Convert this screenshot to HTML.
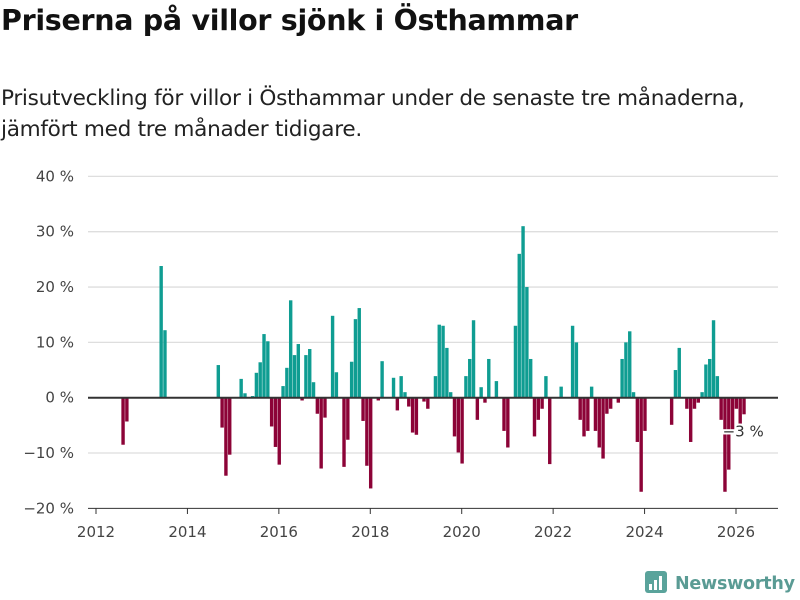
<!DOCTYPE html>
<html><head><meta charset="utf-8">
<style>
body{margin:0;background:#fff;font-family:"Liberation Sans","DejaVu Sans",sans-serif;}
#wrap{position:relative;width:800px;height:600px;overflow:hidden;}
h1{position:absolute;left:1px;top:4px;margin:0;font-size:28.5px;font-weight:bold;color:#111;font-family:"DejaVu Sans","Liberation Sans",sans-serif;letter-spacing:-0.3px;}
.sub{position:absolute;left:1px;top:83px;margin:0;font-size:21.6px;line-height:31px;color:#222;font-family:"DejaVu Sans","Liberation Sans",sans-serif;letter-spacing:-0.3px;}
svg{position:absolute;left:0;top:0;}
</style></head><body>
<div id="wrap">
<h1>Priserna på villor sjönk i Östhammar</h1>
<p class="sub">Prisutveckling för villor i Östhammar under de senaste tre månaderna,<br>jämfört med tre månader tidigare.</p>
<svg id="chart" width="800" height="600"></svg>
</div>
<script>
// month index from Jan 2012
const monthIdx = [7,8,17,18,32,33,34,35,38,39,41,42,43,44,45,46,47,48,49,50,51,52,53,54,55,56,57,58,59,60,62,63,65,66,67,68,69,70,71,72,74,75,78,79,80,81,82,83,84,86,87,89,90,91,92,93,94,95,96,97,98,99,100,101,102,103,105,107,108,110,111,112,113,114,115,116,117,118,119,122,125,126,127,128,129,130,131,132,133,134,135,137,138,139,140,141,142,143,144,151,152,153,155,156,157,158,159,160,161,162,163,164,165,166,167,168,169,170];
const values = [-8.5,-4.3,23.8,12.2,5.9,-5.4,-14.1,-10.3,3.4,0.8,0.3,4.5,6.4,11.5,10.2,-5.2,-8.9,-12.1,2.1,5.4,17.6,7.7,9.7,-0.5,7.7,8.8,2.8,-2.9,-12.8,-3.6,14.8,4.6,-12.5,-7.6,6.5,14.2,16.2,-4.2,-12.3,-16.4,-0.5,6.6,3.6,-2.3,3.9,1,-1.6,-6.3,-6.7,-0.7,-2,3.9,13.2,13,9,1,-7,-9.9,-11.9,3.9,7,14,-4,1.9,-0.9,7,3,-6,-9,13,26,31,20,7,-7,-4,-2,3.9,-12,2,13,10,-4,-7,-6,2,-6,-9,-11,-2.9,-2,-0.9,7,10,12,1,-8,-17,-6,-4.9,5,9,-2,-8,-2,-0.9,1,6,7,14,3.9,-4,-17,-13,-6,-2,-4.7,-3];
const yTicks = [40,30,20,10,0,-10,-20];
const xTickYears = [2012,2014,2016,2018,2020,2022,2024,2026];
const lastLabel = "−3 %";

const NS="http://www.w3.org/2000/svg";
const svg=document.getElementById('chart');
const y=v=>397.7-v*5.533;
const xYear=yr=>96+(yr-2012)*45.714;
const xMonth=i=>95+i*3.8095;
function mk(t,a){const e=document.createElementNS(NS,t);for(const k in a)e.setAttribute(k,a[k]);svg.appendChild(e);return e;}

yTicks.forEach(v=>{
  const g=mk('line',{x1:88,x2:778,y1:y(v),y2:y(v),stroke:v===-20?'#333':'#dedede','stroke-width':v===-20?1:1.3});
  
  
  const t=mk('text',{x:74,y:y(v)+5,'text-anchor':'end','font-size':15,fill:'#444','font-family':'DejaVu Sans, Liberation Sans, sans-serif'});
  t.textContent=(v<0?'−'+(-v):v)+' %';
  
  
});
xTickYears.forEach(yr=>{
  const l=mk('line',{x1:xYear(yr),x2:xYear(yr),y1:508,y2:514,stroke:'#333','stroke-width':1});
  
  
  const t=mk('text',{x:xYear(yr),y:537,'text-anchor':'middle','font-size':15,fill:'#444','font-family':'DejaVu Sans, Liberation Sans, sans-serif'});
  t.textContent=yr;
  
  
});
monthIdx.forEach((m,k)=>{
  const v=values[k];
  const r=mk('rect',{x:xMonth(m)-0.3,width:3.4,y:Math.min(y(v),y(0)),height:Math.abs(y(v)-y(0)),fill:v>=0?'#0f9d92':'#8c0337'});
  
  
});
const z=mk('line',{x1:88,x2:778,y1:y(0),y2:y(0),stroke:'#333','stroke-width':2});


const lastI=monthIdx[monthIdx.length-1], lastV=values[values.length-1];
const lb=mk('text',{x:xMonth(lastI)-20,y:y(lastV)+22,'font-size':15,fill:'#333',stroke:'#fff','stroke-width':4,'paint-order':'stroke','font-family':'DejaVu Sans, Liberation Sans, sans-serif'});
lb.textContent=lastLabel;


// logo
const lg=mk('rect',{x:645,y:571,width:22,height:22,rx:3,fill:'#5aa39b'});


[[649,584,3,6],[654,580,3,10],[659,576,3,14]].forEach(b=>{const r=mk('rect',{x:b[0],y:b[1],width:b[2],height:b[3],fill:'#fff'});});
const lt=mk('text',{x:675,y:589,'font-size':17.5,'font-weight':'bold',fill:'#5a9b94','font-family':'DejaVu Sans, Liberation Sans, sans-serif',textLength:120});
lt.textContent='Newsworthy';


</script>
</body></html>
